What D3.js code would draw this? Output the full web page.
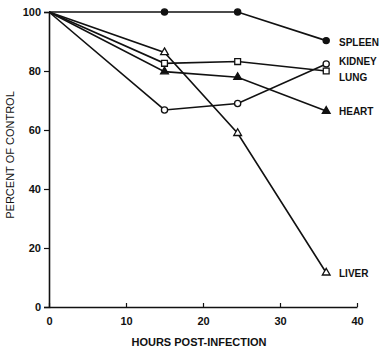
<!DOCTYPE html>
<html>
<head>
<meta charset="utf-8">
<script src="https://cdn.jsdelivr.net/npm/d3@7"></script>
<style>
body { margin: 0; background: #fff; }
text { font-family: "Liberation Sans", Arial, sans-serif; fill: #111; }
</style>
</head>
<body>
<div id="chart-area"></div>
<script>
var hours = [0, 15, 24.5, 36];
var spleen = [100, 100, 100, 90.3];
var kidney = [100, 66.8, 69, 82.4];
var lung = [100, 82.6, 83.2, 80];
var heart = [100, 79.8, 77.9, 66.4];
var liver = [100, 86.3, 58.9, 11.6];
var xTicks = [0, 10, 20, 30, 40];
var yTicks = [0, 20, 40, 60, 80, 100];

var series = [
    {name: "SPLEEN", values: spleen, marker: "circle", filled: true, labelY: 42},
    {name: "KIDNEY", values: kidney, marker: "circle", filled: false, labelY: 61},
    {name: "LUNG", values: lung, marker: "square", filled: false, labelY: 77},
    {name: "HEART", values: heart, marker: "triangle", filled: true, labelY: 111},
    {name: "LIVER", values: liver, marker: "triangle", filled: false, labelY: 273}
];

var margin = {top: 12, left: 49, bottom: 43, right: 24},
    width = 381 - margin.left - margin.right,
    height = 350 - margin.top - margin.bottom;

var svg = d3.select("#chart-area").append("svg")
    .attr("width", 381)
    .attr("height", 350)
var g = svg.append("g")
    .attr("transform", "translate(" + margin.left + ", " + margin.top + ")");

var x = d3.scaleLinear().domain([0, 40]).range([0, 308]);
var y = d3.scaleLinear().domain([0, 100]).range([295, 0]);

// axes
var xAxis = g.append("g")
    .attr("transform", "translate(0, " + y(0) + ")")
    .call(d3.axisBottom(x).tickValues(xTicks).tickSizeInner(-4).tickSizeOuter(0).tickPadding(10))
var yAxis = g.append("g")
    .call(d3.axisLeft(y).tickValues(yTicks).tickSize(5).tickPadding(3))

g.selectAll(".domain").attr("stroke", "#111").attr("stroke-width", 1.6)
g.selectAll(".tick line").attr("stroke", "#111").attr("stroke-width", 1.2)
g.selectAll(".tick text")
    .style("font-size", "11px")
    .style("font-weight", "bold")
    .attr("fill", "#111")

// titles
svg.append("text")
    .attr("transform", "translate(14, 155) rotate(-90)")
    .attr("text-anchor", "middle")
    .style("font-size", "11px")
    .text("PERCENT OF CONTROL")
svg.append("text")
    .attr("x", 199)
    .attr("y", 346)
    .attr("text-anchor", "middle")
    .style("font-size", "11px")
    .style("font-weight", "bold")
    .text("HOURS POST-INFECTION")

var line = d3.line()
    .x((d, i) => {return x(hours[i])})
    .y((d) => {return y(d)});

series.forEach((s) => {
    g.append("path")
        .attr("fill", "none")
        .attr("stroke", "#111")
        .attr("stroke-width", 1.6)
        .attr("d", line(s.values))

    var pts = s.values.slice(1);
    var mk = g.selectAll(null).data(pts).enter();
    var fill = s.filled ? "#111" : "#fff";
    var sym;
    if (s.marker == "circle") sym = d3.symbol().type(d3.symbolCircle).size(30);
    else if (s.marker == "square") sym = d3.symbol().type(d3.symbolSquare).size(34);
    else sym = d3.symbol().type(d3.symbolTriangle).size(26);
    mk.append("path")
        .attr("d", sym)
        .attr("transform", (d, i) => {return "translate(" + x(hours[i + 1]) + ", " + y(d) + ")"})
        .attr("fill", fill)
        .attr("stroke", "#111")
        .attr("stroke-width", 1.3)

    svg.append("text")
        .attr("x", 339)
        .attr("y", s.labelY + 4)
        .style("font-size", "10px")
        .style("font-weight", "bold")
        .text(s.name)
})
</script>
</body>
</html>
